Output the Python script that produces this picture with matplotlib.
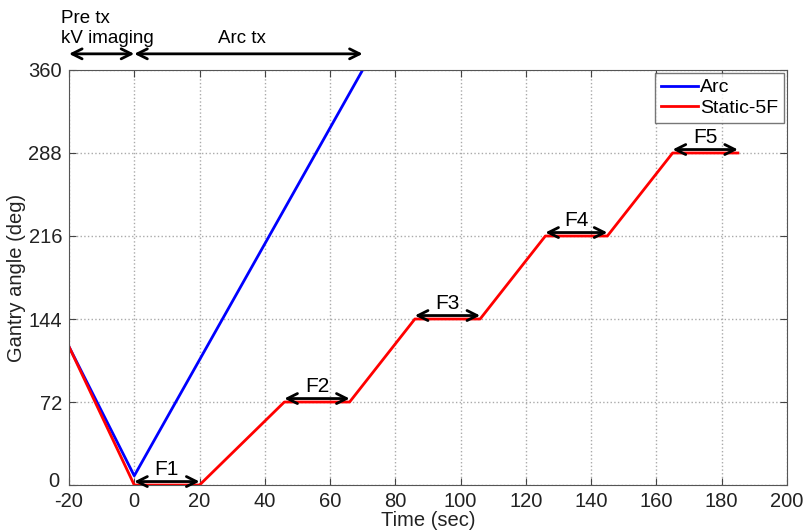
import matplotlib.pyplot as plt
import matplotlib.transforms as mtransforms
import numpy as np

plt.rcParams['font.family'] = ['Liberation Sans', 'DejaVu Sans']
plt.rcParams['axes.unicode_minus'] = False

# gantry angle vs time
arc_t = [-20, 0, 70]
arc_angle = [120, 8, 360]

static_t = [-20, 0, 20, 46, 66, 86, 106, 126, 145, 165, 185]
static_angle = [120, 0, 0, 72, 72, 144, 144, 216, 216, 288, 288]

# static field beam-on intervals
field_labels = ["F1", "F2", "F3", "F4", "F5"]
field_start = [0, 46, 86, 126, 165]
field_end = [20, 66, 106, 145, 185]
field_angle = [0, 72, 144, 216, 288]

fig = plt.figure(figsize=(8.07, 5.31), dpi=100)
ax = fig.add_axes([0.0855, 0.0866, 0.8895, 0.7816])

ax.plot(arc_t, arc_angle, color="blue", lw=2, label="Arc")
ax.plot(static_t, static_angle, color="red", lw=2, label="Static-5F")

for lab, t0, t1, a in zip(field_labels, field_start, field_end, field_angle):
    ax.annotate("", xy=(t0, a + 3), xytext=(t1, a + 3),
                arrowprops=dict(arrowstyle="<->", color="black", lw=2,
                                shrinkA=0, shrinkB=0, mutation_scale=18))
    ax.text((t0 + t1) / 2, a + 5, lab, ha="center", va="bottom", fontsize=15)

# phases above the axes
for t0, t1 in [(-20, 0), (0, 70)]:
    ax.annotate("", xy=(t0, 374), xytext=(t1, 374), annotation_clip=False,
                arrowprops=dict(arrowstyle="<->", color="black", lw=2,
                                shrinkA=0, shrinkB=0, mutation_scale=18))
ax.text(-22.5, 380, "Pre tx\nkV imaging", ha="left", va="bottom", fontsize=13.5,
        linespacing=1.2, clip_on=False)
ax.text(33, 380, "Arc tx", ha="center", va="bottom", fontsize=13.5, clip_on=False)

ax.set_xlim(-20, 200)
ax.set_ylim(0, 360)
ax.set_xticks(np.arange(-20, 201, 20))
ax.set_yticks(np.arange(0, 361, 72))
ax.tick_params(direction="in", labelsize=14.5, length=5, color="#444444",
               labelcolor="#222222", top=True, right=True)
ax.tick_params(axis="x", pad=5)
ax.tick_params(axis="y", pad=5)
ax.grid(True, ls=":", color="#aaaaaa", lw=1)
for s in ax.spines.values():
    s.set_color("#555555")
ax.set_xlabel("Time (sec)", fontsize=14.5, labelpad=0, color="#222222")
ax.set_ylabel("Gantry angle (deg)", fontsize=14.5, color="#222222", labelpad=2)

# nudge the "0" y label up so it clears "-20"
zero_lab = ax.get_yticklabels()[0]
zero_lab.set_transform(zero_lab.get_transform() +
                       mtransforms.ScaledTranslation(-2 / 72, 4 / 72, fig.dpi_scale_trans))

leg = ax.legend(loc="upper right", fontsize=14, fancybox=False,
                edgecolor="#555555", handlelength=1.9, borderaxespad=0.15,
                handletextpad=0.1, labelspacing=0.15, borderpad=0.3)
leg.get_frame().set_linewidth(1)

fig.savefig("out.png", dpi=100)
